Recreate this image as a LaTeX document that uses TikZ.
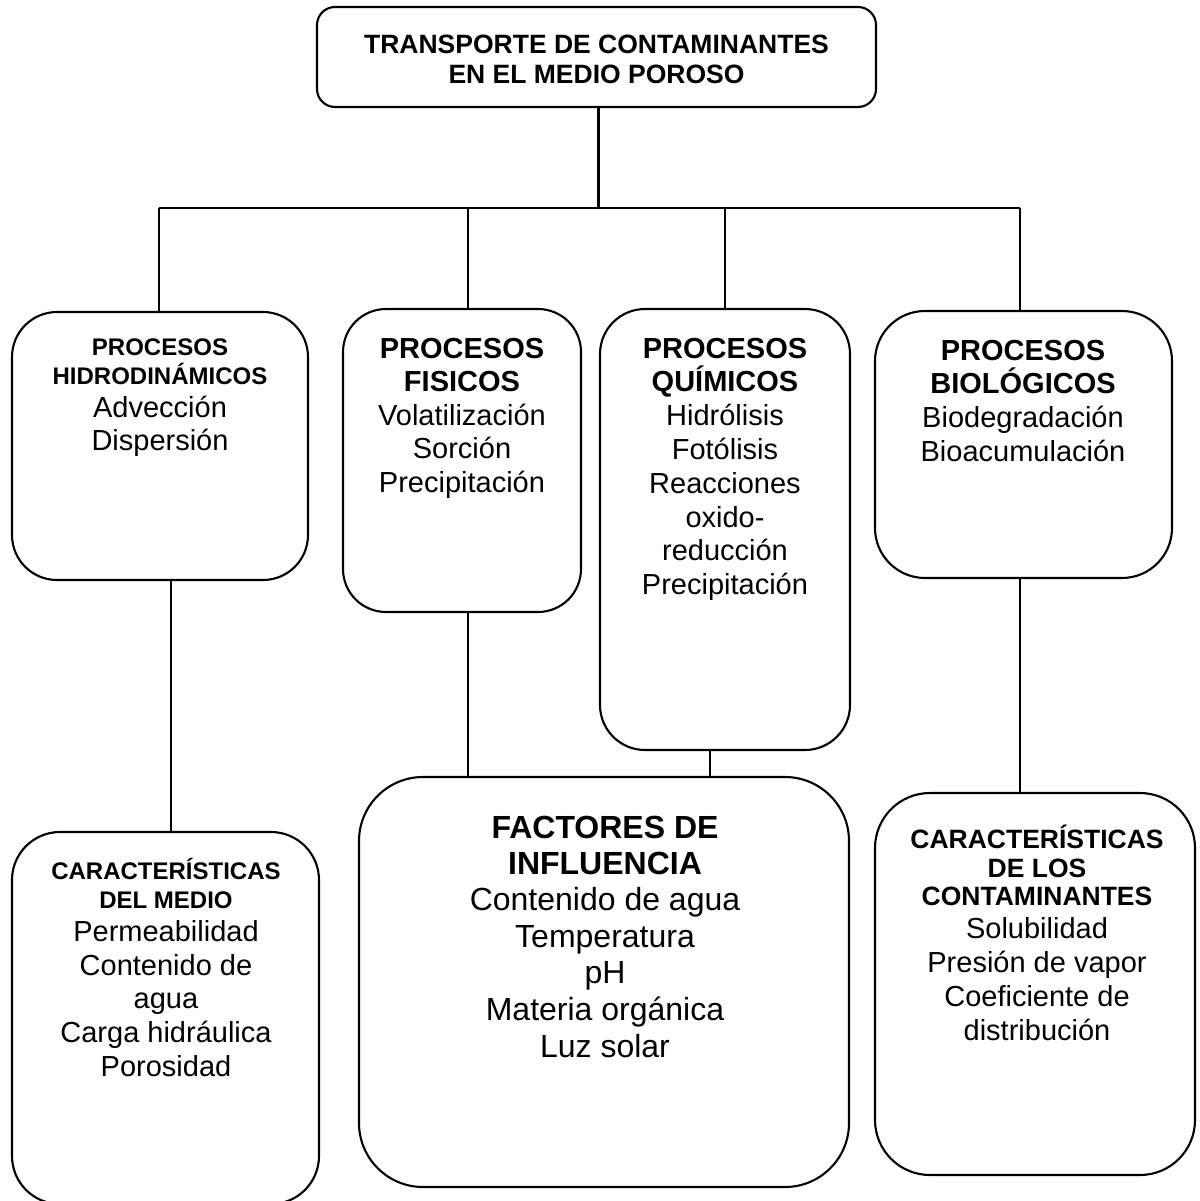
\documentclass[tikz,border=0pt]{standalone}
\usepackage{fontspec}
\setmainfont{Liberation Sans}
\begin{document}
\begin{tikzpicture}[x=1pt,y=-1pt,
  box/.style={draw, line width=2.1pt, inner sep=0pt, outer sep=0pt},
  conn/.style={line width=2.1pt},
  tl/.style={anchor=base, inner sep=0pt, outer sep=0pt},
  bA/.style={tl, font=\bfseries\fontsize{24}{28}\selectfont},
  bB/.style={tl, font=\bfseries\fontsize{26.5}{30}\selectfont},
  bC/.style={tl, font=\bfseries\fontsize{29}{33}\selectfont},
  bD/.style={tl, font=\bfseries\fontsize{32}{36}\selectfont},
  rA/.style={tl, font=\fontsize{29}{33}\selectfont},
  rD/.style={tl, font=\fontsize{32}{36}\selectfont}]
\useasboundingbox (0,0) rectangle (1199,1201);
\clip (0,0) rectangle (1199,1201);
\fill[white] (0,0) rectangle (1199,1201);

% boxes
\node[box, rounded corners=18pt, minimum width=559pt, minimum height=100pt] (top) at (596.5,57) {};
\node[box, rounded corners=45pt, minimum width=296pt, minimum height=268pt] (b1) at (160,446) {};
\node[box, rounded corners=43pt, minimum width=238pt, minimum height=303pt] (b2) at (462,460.5) {};
\node[box, rounded corners=45pt, minimum width=250pt, minimum height=441pt] (b3) at (725,529.5) {};
\node[box, rounded corners=50pt, minimum width=297pt, minimum height=267pt] (b4) at (1023.5,444.5) {};
\node[box, rounded corners=48pt, minimum width=307pt, minimum height=372pt] (b5) at (165.5,1018) {};
\node[box, rounded corners=64pt, minimum width=490pt, minimum height=410pt] (b6) at (604,982) {};
\node[box, rounded corners=55pt, minimum width=320pt, minimum height=382pt] (b7) at (1035,984) {};

% connectors
\coordinate (busL) at (159,208);
\coordinate (busR) at (1020,208);
\draw[conn] ([xshift=2pt]top.south) -- ([xshift=2pt]top.south |- busL);
\draw[conn] (busL) -- (busR);
\draw[conn] (busL) -- (busL |- b1.north);
\draw[conn] ([xshift=6pt]b2.north) -- ([xshift=6pt]b2.north |- busL);
\draw[conn] (b3.north) -- (b3.north |- busL);
\draw[conn] (busR) -- (busR |- b4.north);
\draw[conn] ([xshift=11pt]b1.south) -- ([xshift=11pt]b1.south |- b5.north);
\draw[conn] ([xshift=6pt]b2.south) -- ([xshift=6pt]b2.south |- b6.north);
\draw[conn] ([xshift=-15pt]b3.south) -- ([xshift=-15pt]b3.south |- b6.north);
\draw[conn] ([xshift=-3.5pt]b4.south) -- ([xshift=-3.5pt]b4.south |- b7.north);

% title
\node[bB] (t0a) at (596.5,54) {TRANSPORTE DE CONTAMINANTES};
\node[bB] (t0b) at (596.5,84) {EN EL MEDIO POROSO};

% box 1
\node[bA] (t1a) at (160,355) {PROCESOS};
\node[bA] (t1b) at (160,384) {HIDRODINÁMICOS};
\node[rA] (t1c) at (160,417) {Advección};
\node[rA] (t1d) at (160,450) {Dispersión};

% box 2
\node[bC] (t2a) at (462,358) {PROCESOS};
\node[bC] (t2b) at (462,391) {FISICOS};
\node[rA] (t2c) at (462,425) {Volatilización};
\node[rA] (t2d) at (462,458) {Sorción};
\node[rA] (t2e) at (462,492) {Precipitación};

% box 3
\node[bC] (t3a) at (725,358) {PROCESOS};
\node[bC] (t3b) at (725,391) {QUÍMICOS};
\node[rA] (t3c) at (725,425) {Hidrólisis};
\node[rA] (t3d) at (725,459) {Fotólisis};
\node[rA] (t3e) at (725,493) {Reacciones};
\node[rA] (t3f) at (725,527) {oxido-};
\node[rA] (t3g) at (725,560) {reducción};
\node[rA] (t3h) at (725,594) {Precipitación};

% box 4
\node[bC] (t4a) at (1023,360) {PROCESOS};
\node[bC] (t4b) at (1023,393) {BIOLÓGICOS};
\node[rA] (t4c) at (1023,427) {Biodegradación};
\node[rA] (t4d) at (1023,461) {Bioacumulación};

% box 5
\node[bA] (t5a) at (166,879) {CARACTERÍSTICAS};
\node[bA] (t5b) at (166,908) {DEL MEDIO};
\node[rA] (t5c) at (166,941) {Permeabilidad};
\node[rA] (t5d) at (166,975) {Contenido de};
\node[rA] (t5e) at (166,1008) {agua};
\node[rA] (t5f) at (166,1042) {Carga hidráulica};
\node[rA] (t5g) at (166,1076) {Porosidad};

% box 6
\node[bD] (t6a) at (605,838) {FACTORES DE};
\node[bD] (t6b) at (605,874) {INFLUENCIA};
\node[rD] (t6c) at (605,910) {Contenido de agua};
\node[rD] (t6d) at (605,947) {Temperatura};
\node[rD] (t6e) at (605,983) {pH};
\node[rD] (t6f) at (605,1020) {Materia orgánica};
\node[rD] (t6g) at (605,1057) {Luz solar};

% box 7
\node[bB] (t7a) at (1037,848) {CARACTERÍSTICAS};
\node[bB] (t7b) at (1037,877) {DE LOS};
\node[bB] (t7c) at (1037,905) {CONTAMINANTES};
\node[rA] (t7d) at (1037,938) {Solubilidad};
\node[rA] (t7e) at (1037,972) {Presión de vapor};
\node[rA] (t7f) at (1037,1006) {Coeficiente de};
\node[rA] (t7g) at (1037,1040) {distribución};
\end{tikzpicture}
\end{document}
